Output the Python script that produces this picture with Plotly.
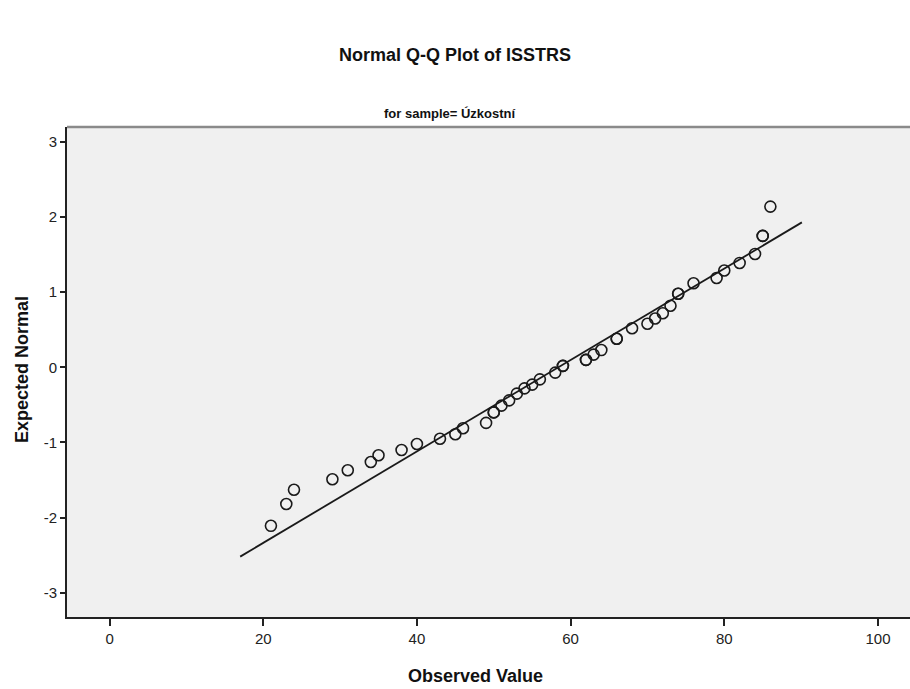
import plotly.graph_objects as go

observed = [21, 23, 24, 29, 31, 34, 35, 38, 40, 43, 45, 46, 49, 50, 50, 51, 52, 53, 54, 55,
            56, 58, 59, 59, 62, 62, 63, 64, 66, 66, 68, 70, 71, 72, 73, 74, 74, 76, 79, 80,
            82, 84, 85, 85, 86]
expected = [-2.11, -1.82, -1.63, -1.49, -1.37, -1.26, -1.17, -1.10, -1.02, -0.95, -0.89, -0.81,
            -0.74, -0.60, -0.60, -0.51, -0.44, -0.35, -0.28, -0.23, -0.16, -0.07, 0.02, 0.02,
            0.10, 0.10, 0.17, 0.23, 0.38, 0.38, 0.52, 0.58, 0.65, 0.72, 0.82, 0.98, 0.98, 1.12,
            1.19, 1.29, 1.39, 1.51, 1.75, 1.75, 2.14]

# Reference normal line end points
line_x = [17.0, 90.1]
line_y = [-2.52, 1.93]

x_ticks = [0, 20, 40, 60, 80, 100]
x_tick_labels = ["0", "20", "40", "60", "80", "100"]
y_ticks = [-3, -2, -1, 0, 1, 2, 3]
y_tick_labels = ["-3", "-2", "-1", "0", "1", "2", "3"]

title_text = "Normal Q-Q Plot of ISSTRS"
subtitle_text = "for sample= Úzkostní"
x_title = "Observed Value"
y_title = "Expected Normal"

tick_font = dict(family="Liberation Sans Narrow, Arial Narrow, Liberation Sans, Arial", size=15, color="#222")
bold_font = "Liberation Sans, Arial"

fig = go.Figure()
fig.add_trace(go.Scatter(x=line_x, y=line_y, mode="lines",
                         line=dict(color="#1a1a1a", width=1.8), hoverinfo="skip", showlegend=False))
fig.add_trace(go.Scatter(x=observed, y=expected, mode="markers",
                         marker=dict(symbol="circle-open", size=11, color="#1a1a1a",
                                     line=dict(width=1.6, color="#1a1a1a")),
                         showlegend=False))

fig.update_layout(
    width=910, height=689,
    margin=dict(l=67, r=0, t=127, b=72),
    paper_bgcolor="white",
    plot_bgcolor="#f0f0f0",
    xaxis=dict(range=[-5.54, 104.17], tickvals=x_ticks, ticktext=x_tick_labels, ticks="outside",
               ticklen=7, tickwidth=1.5, tickcolor="#222", showline=True, linecolor="#222",
               linewidth=2, showgrid=False, zeroline=False, tickfont=tick_font, mirror=False),
    yaxis=dict(range=[-3.324, 3.20], tickvals=y_ticks, ticktext=y_tick_labels, ticks="outside",
               ticklen=5, tickwidth=1.5, tickcolor="#222", showline=True, linecolor="#222",
               linewidth=2, showgrid=False, zeroline=False, tickfont=tick_font),
    shapes=[dict(type="line", xref="paper", yref="paper", x0=0, x1=1, y0=1, y1=1,
                 line=dict(color="#8a8a8a", width=2.5))],
    annotations=[
        dict(text="<b>" + title_text + "</b>", xref="paper", yref="paper", x=(455 - 67) / 843,
             y=(689 - 72 - 55) / 490, yanchor="middle", xanchor="center", showarrow=False,
             font=dict(family=bold_font, size=18, color="#111")),
        dict(text="<b>" + subtitle_text + "</b>", xref="paper", yref="paper", x=(450 - 67) / 843,
             y=1, yanchor="bottom", xanchor="center", showarrow=False, yshift=4,
             font=dict(family=bold_font, size=13, color="#111")),
        dict(text="<b>" + x_title + "</b>", xref="paper", yref="paper", x=(475 - 67) / 843,
             y=0, yanchor="middle", xanchor="center", showarrow=False, yshift=-(676 - 617),
             font=dict(family=bold_font, size=18, color="#111")),
        dict(text="<b>" + y_title + "</b>", xref="paper", yref="paper", x=0, xshift=-(67 - 22),
             y=(617 - 370) / 490, yanchor="middle", xanchor="center", showarrow=False, textangle=-90,
             font=dict(family=bold_font, size=18, color="#111")),
    ],
)

fig.write_html("out.html")
